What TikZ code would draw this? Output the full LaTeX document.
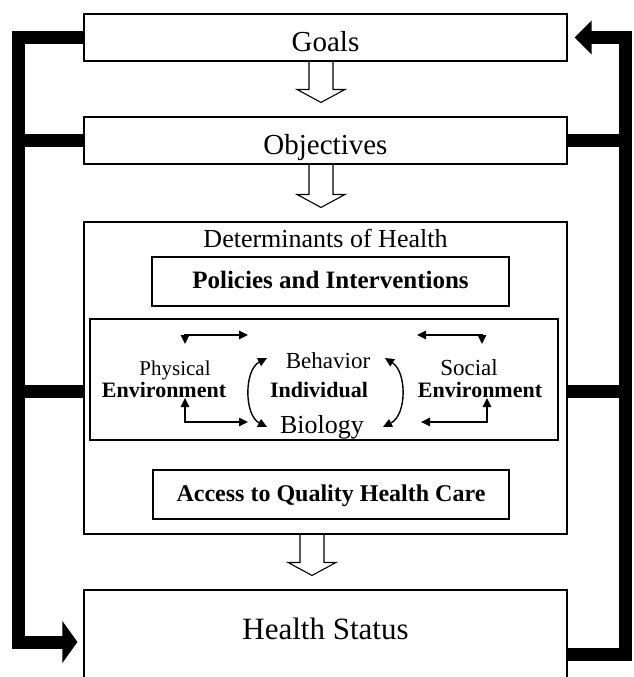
\documentclass[tikz,border=0pt]{standalone}
\usepackage{fontspec}
\setmainfont{Liberation Serif}
\usetikzlibrary{arrows.meta,calc}

\tikzset{
  box/.style={draw, line width=1.1pt, inner sep=0pt, minimum width=483pt, align=center},
  subbox/.style={draw, line width=1.1pt, inner sep=0pt},
  feedback/.style={line width=13pt, line join=miter},
  hollow/.style={line width=1.1pt},
  twoway/.style={line width=1.4pt, {Triangle[length=9pt,width=8.5pt]}-{Triangle[length=9pt,width=8.5pt]}},
}
% hollow block arrow from one box down to the next
\newcommand{\hollowdown}[3][0]{%
  \draw[hollow] let \p1=([xshift=#1pt]#2.south), \p2=(#3.north) in
    (\x1-12pt,\y1) -- (\x1-12pt,\y2+27pt) -- (\x1-24pt,\y2+27pt)
    -- (\x1,\y2+14pt) -- (\x1+24pt,\y2+27pt) -- (\x1+12pt,\y2+27pt) -- (\x1+12pt,\y1);}

\begin{document}
\begin{tikzpicture}[x=1pt,y=-1pt]
\clip (0,0) rectangle (633,677);
% main column
\node[box, minimum height=47pt, text height=28pt, text depth=0pt, font=\fontsize{29}{31}\selectfont] (goals) at (325.5,37.5) {Goals};
\node[box, minimum height=47pt, text height=28pt, text depth=0pt, font=\fontsize{29}{31}\selectfont] (objectives) at (325.5,140.5) {Objectives};
\node[box, minimum height=312pt] (det) at (325.5,378) {};
\node[anchor=base, font=\fontsize{26}{28}\selectfont] (dettitle) at ([yshift=-26pt]det.north) {Determinants of Health};
\node[subbox, minimum width=357pt, minimum height=49pt, text height=17pt, text depth=4pt, font=\bfseries\fontsize{25}{27}\selectfont] (policies) at (330.5,281.5) {Policies and Interventions};
\node[subbox, minimum width=468pt, minimum height=121pt] (inner) at (324,379.5) {};
\node[subbox, minimum width=356pt, minimum height=49pt, text height=17pt, text depth=4pt, font=\bfseries\fontsize{24}{26}\selectfont] (access) at (331,494.5) {Access to Quality Health Care};
\node[box, minimum height=104pt, text height=21pt, text depth=27pt, font=\fontsize{31}{33}\selectfont] (health) at (325.5,642) {Health Status};

% inside the determinants
\node[anchor=base, font=\fontsize{21}{23}\selectfont] (physical) at (175,375) {Physical};
\node[anchor=base, font=\bfseries\fontsize{22}{24}\selectfont] (envleft) at (164,397) {Environment};
\node[anchor=base, font=\fontsize{23}{25}\selectfont] (behavior) at (328,368) {Behavior};
\node[anchor=base, font=\bfseries\fontsize{22}{24}\selectfont] (individual) at (319,397) {Individual};
\node[anchor=base, font=\fontsize{26}{28}\selectfont] (biology) at (322,433) {Biology};
\node[anchor=base, font=\fontsize{23}{25}\selectfont] (social) at (469,375) {Social};
\node[anchor=base, font=\bfseries\fontsize{22}{24}\selectfont] (envright) at (480,397) {Environment};

\coordinate (tl1) at (185,344); \coordinate (tl2) at (248,335);
\coordinate (bl1) at (185,398); \coordinate (bl2) at (248,422);
\coordinate (tr1) at (417,335); \coordinate (tr2) at (482,344);
\coordinate (br1) at (421,422); \coordinate (br2) at (487,398);
\draw[twoway] (tl1) |- (tl2);
\draw[twoway] (bl1) |- (bl2);
\draw[twoway] (tr1) -| (tr2);
\draw[twoway] (br1) -| (br2);
\coordinate (cl1) at (267,358); \coordinate (cl2) at (267,427);
\coordinate (cr1) at (385,358); \coordinate (cr2) at (383,427);
\draw[twoway] (cl1) .. controls (244,370) and (244,415) .. (cl2);
\draw[twoway] (cr1) .. controls (407,372) and (407,415) .. (cr2);

% block arrows
\hollowdown[-4.5]{goals}{objectives}
\hollowdown[-4.5]{objectives}{det}
\hollowdown[-13.5]{det}{health}

% feedback loops
\coordinate (lline) at (18.5,37.5);
\coordinate (rline) at (625,37.5);
\coordinate (detl) at ([yshift=-13pt]det.west);
\coordinate (detr) at ([yshift=-13pt]det.east);
\draw[feedback, -{Triangle[length=15pt,width=41pt]}] (goals.west) -- (lline) |- ([xshift=-6pt]health.west);
\draw[feedback] (objectives.west) -- (objectives.west -| lline);
\draw[feedback] (detl) -- (detl -| lline);
\draw[feedback, -{Triangle[length=17pt,width=33pt]}] ([yshift=-12pt]health.east) -| (rline) -- ([xshift=7pt]goals.east);
\draw[feedback] (objectives.east) -- (objectives.east -| rline);
\draw[feedback] (detr) -- (detr -| rline);
\end{tikzpicture}
\end{document}
